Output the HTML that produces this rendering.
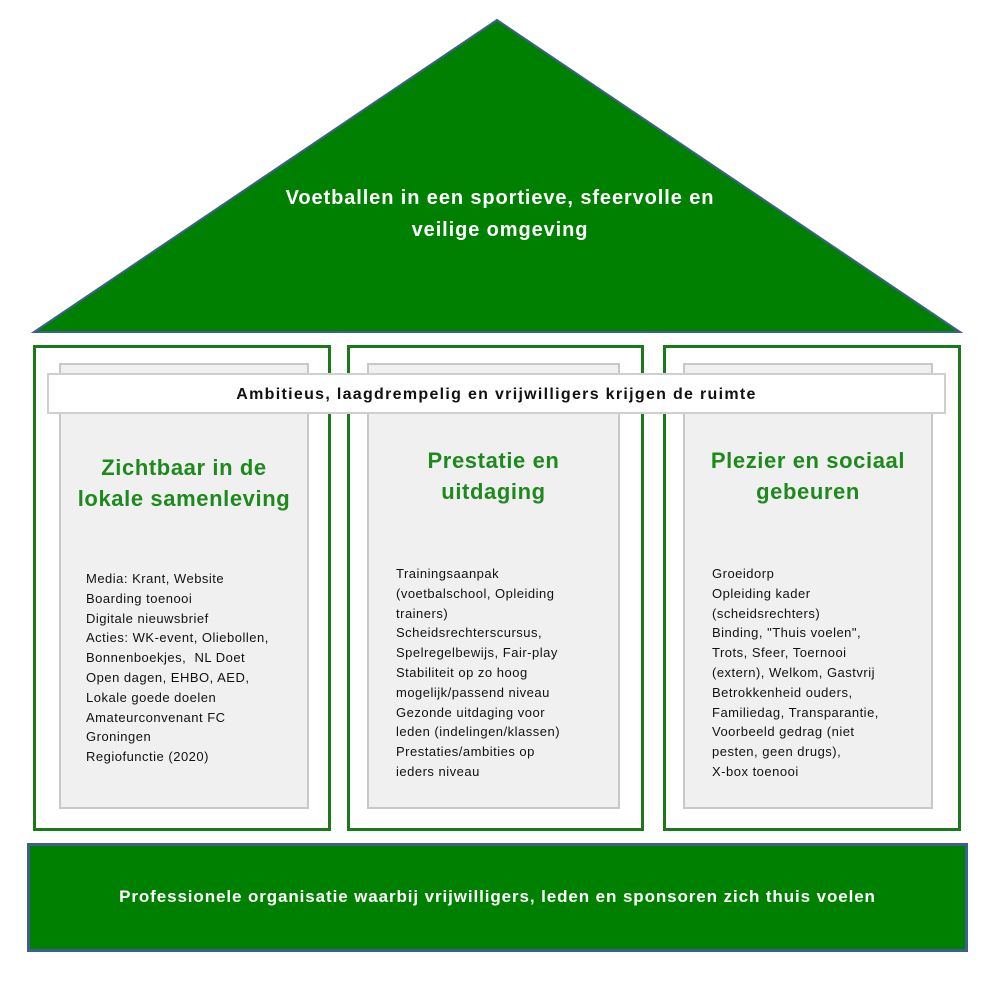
<!DOCTYPE html>
<html><head><meta charset="utf-8"><style>
body{margin:0;width:1000px;height:986px;background:#fff;position:relative;font-family:"Liberation Sans",sans-serif;overflow:hidden}
.a{position:absolute;box-sizing:border-box}
.p{border:3px solid #1a7a1a;background:#fff}
.g{background:#f0f0f0;border:2px solid #c8c8c8}
.h{color:#1e8a1e;font-weight:bold;font-size:22px;letter-spacing:0.6px;text-align:center;line-height:31px}
.t{font-size:13px;letter-spacing:0.5px;line-height:19.8px;color:#111;white-space:nowrap}
</style></head><body>
<svg class="a" style="left:0;top:0" width="1000" height="340"><polygon points="497,20 34,332 960,332" fill="#008000" stroke="#3d5f8f" stroke-width="2"/></svg>
<div class="a" style="left:100px;top:182px;width:800px;text-align:center;color:#fff;font-weight:bold;font-size:20px;letter-spacing:0.9px;line-height:32px">Voetballen in een sportieve, sfeervolle en<br>veilige omgeving</div>
<div class="a p" style="left:33px;top:345px;width:298px;height:486px"></div>
<div class="a p" style="left:347px;top:345px;width:297px;height:486px"></div>
<div class="a p" style="left:663px;top:345px;width:298px;height:486px"></div>
<div class="a g" style="left:59px;top:363px;width:250px;height:446px"></div>
<div class="a g" style="left:367px;top:363px;width:253px;height:446px"></div>
<div class="a g" style="left:683px;top:363px;width:250px;height:446px"></div>
<div class="a" style="left:47px;top:373px;width:899px;height:41px;background:#fff;border:2px solid #cfcfcf;text-align:center;font-weight:bold;font-size:16px;letter-spacing:1.3px;line-height:40px;color:#111">Ambitieus, laagdrempelig en vrijwilligers krijgen de ruimte</div>
<div class="a h" style="left:49px;top:452px;width:270px">Zichtbaar in de<br>lokale samenleving</div>
<div class="a h" style="left:357px;top:445px;width:273px">Prestatie en<br>uitdaging</div>
<div class="a h" style="left:673px;top:445px;width:270px">Plezier en sociaal<br>gebeuren</div>
<div class="a t" style="left:86px;top:569px">Media: Krant, Website<br>Boarding toenooi<br>Digitale nieuwsbrief<br>Acties: WK-event, Oliebollen,<br>Bonnenboekjes,&nbsp; NL Doet<br>Open dagen, EHBO, AED,<br>Lokale goede doelen<br>Amateurconvenant FC<br>Groningen<br>Regiofunctie (2020)</div>
<div class="a t" style="left:396px;top:564px">Trainingsaanpak<br>(voetbalschool, Opleiding<br>trainers)<br>Scheidsrechterscursus,<br>Spelregelbewijs, Fair-play<br>Stabiliteit op zo hoog<br>mogelijk/passend niveau<br>Gezonde uitdaging voor<br>leden (indelingen/klassen)<br>Prestaties/ambities op<br>ieders niveau</div>
<div class="a t" style="left:712px;top:564px">Groeidorp<br>Opleiding kader<br>(scheidsrechters)<br>Binding, "Thuis voelen",<br>Trots, Sfeer, Toernooi<br>(extern), Welkom, Gastvrij<br>Betrokkenheid ouders,<br>Familiedag, Transparantie,<br>Voorbeeld gedrag (niet<br>pesten, geen drugs),<br>X-box toenooi</div>
<div class="a" style="left:27px;top:843px;width:941px;height:109px;background:#008000;border:3px solid #3d5f8f;color:#fff;font-weight:bold;font-size:17px;letter-spacing:0.9px;text-align:center;line-height:101px;white-space:nowrap">Professionele organisatie waarbij vrijwilligers, leden en sponsoren zich thuis voelen</div>
</body></html>
